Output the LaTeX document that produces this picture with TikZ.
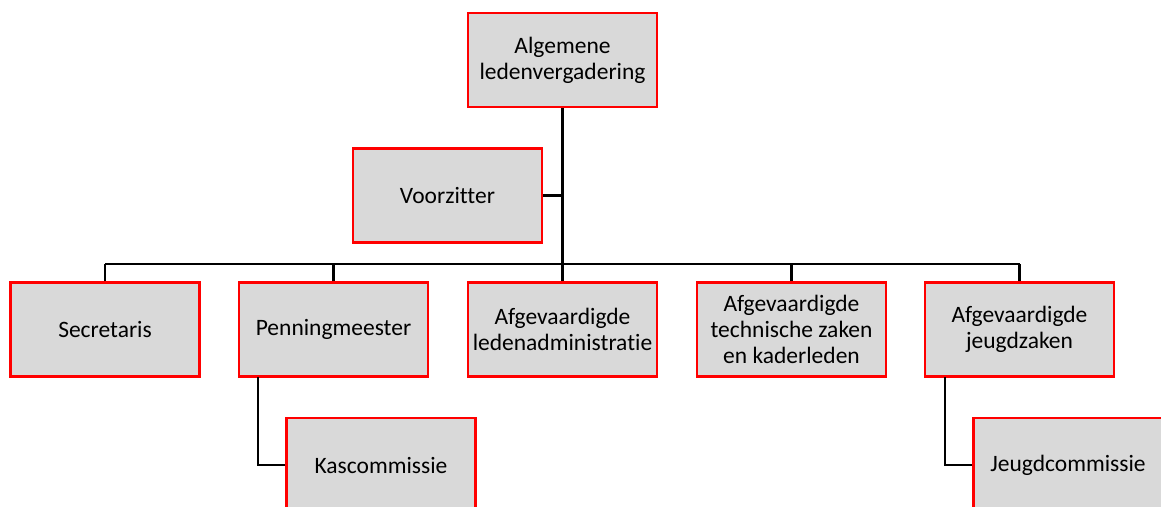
\documentclass[tikz,border=0pt]{standalone}
\usepackage{fontspec}
\setmainfont{Carlito}[Ligatures=NoCommon]
\begin{document}
\begin{tikzpicture}[x=1pt,y=-1pt,
  box/.style={draw=red,line width=2.4pt,fill=black!15,minimum width=189pt,minimum height=94pt,align=center,inner sep=0pt,font=\fontsize{23.5}{26}\selectfont},
  link/.style={draw=black,line width=2.2pt}]
\useasboundingbox (0,0) rectangle (1161,506);
\node[box] (alg) at (562.5,60) {Algemene\\ledenvergadering};
\node[box] (vz) at (447.5,195.5) {Voorzitter};
\node[box] (sec) at (105,329.5) {Secretaris};
\node[box] (pen) at (333.5,329.5) {Penningmeester};
\node[box] (adm) at (562.5,329.5) {Afgevaardigde\\ledenadministratie};
\node[box] (tech) at (791.5,329.5) {Afgevaardigde\\technische zaken\\en kaderleden};
\node[box] (jz) at (1019.5,329.5) {Afgevaardigde\\jeugdzaken};
\node[box] (kas) at (381,465) {Kascommissie};
\node[box] (jc) at (1068,465) {Jeugdcommissie};
\coordinate (bus) at (562.5,264);
\coordinate (bl) at (105,264);
\coordinate (br) at (1019.5,264);
\draw[link] (alg.south) -- (bus);
\draw[link] (vz.east) -- (vz.east -| alg.south);
\draw[link] (bl) -- (br);
\draw[link] (sec.north) -- (sec.north |- bus);
\draw[link] (pen.north) -- (pen.north |- bus);
\draw[link] (adm.north) -- (adm.north |- bus);
\draw[link] (tech.north) -- (tech.north |- bus);
\draw[link] (jz.north) -- (jz.north |- bus);
\coordinate (pk) at (258,377);
\coordinate (jk) at (945,377);
\draw[link] (pk) |- (kas.west);
\draw[link] (jk) |- (jc.west);
\end{tikzpicture}
\end{document}
